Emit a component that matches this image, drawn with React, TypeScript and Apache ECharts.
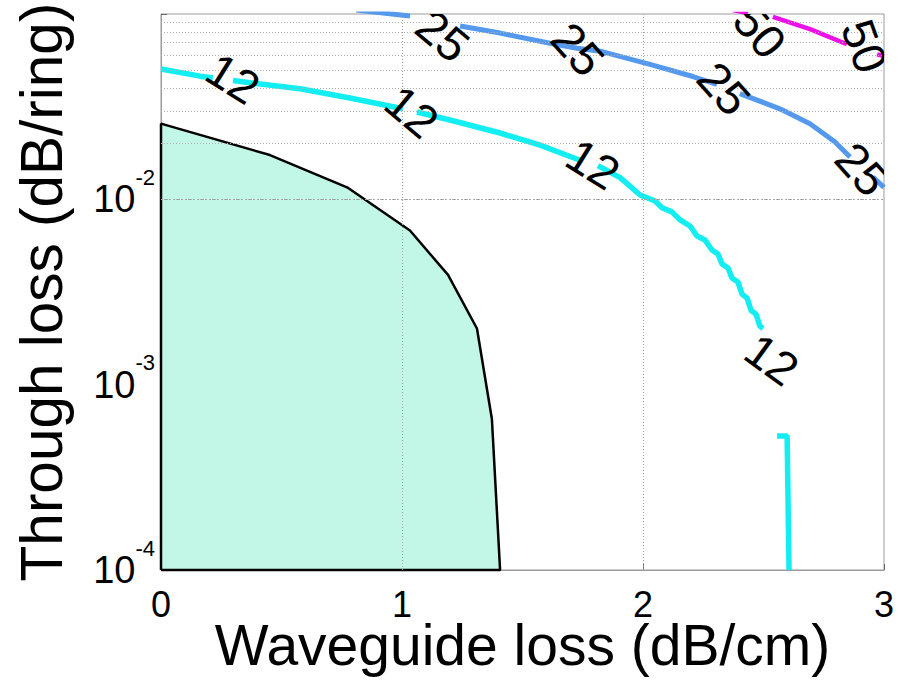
import React, { useEffect, useRef } from "react";
import * as echarts from "echarts";

const FONT = "'Liberation Sans', Arial, Helvetica, sans-serif";

// x-axis ticks (dB/cm) and y-axis decades (dB/ring)
const xTicks = [0, 1, 2, 3];
const yMajor = [1e-3, 1e-2];
const yMinor = [
  2e-4, 3e-4, 4e-4, 5e-4, 6e-4, 7e-4, 8e-4, 9e-4,
  2e-3, 3e-3, 4e-3, 5e-3, 6e-3, 7e-3, 8e-3, 9e-3,
  2e-2, 3e-2, 4e-2, 5e-2, 6e-2, 7e-2, 8e-2, 9e-2,
];
const xGrid = [1, 2];

// shaded feasible region boundary [waveguide loss, through loss]
const region: [number, number][] = [
  [0, 1e-4], [0, 0.0256], [0.452, 0.01734], [0.772, 0.01161], [1.033, 0.00679],
  [1.191, 0.00391], [1.311, 0.00201], [1.373, 0.000653], [1.407, 1e-4], [0, 1e-4],
];

// contour "12" (null = break for the label)
const contour12: ([number, number] | null)[] = [
  [0, 0.0505], [0.162, 0.0462], [0.215, 0.0452], null,
  [0.299, 0.0438], [0.369, 0.0426], [0.577, 0.0395], [0.784, 0.0352], [1.004, 0.0308], null,
  [1.062, 0.0296], [1.199, 0.0268], [1.407, 0.0228], [1.573, 0.0196], [1.747, 0.0161], null,
  [1.813, 0.0152], [1.905, 0.0131], [1.988, 0.01055], [2.05, 0.0098], [2.079, 0.009],
  [2.12, 0.00856], [2.154, 0.00774], [2.195, 0.00718], [2.224, 0.00634], [2.257, 0.00604],
  [2.286, 0.00533], [2.311, 0.00507], [2.328, 0.00448], [2.353, 0.00426], [2.369, 0.00376],
  [2.394, 0.00358], [2.411, 0.00308], [2.432, 0.00293], [2.448, 0.00252], [2.469, 0.0024],
  [2.485, 0.00207], [2.498, 0.00201],
];
const contour12b: [number, number][] = [[2.556, 5.28e-4], [2.598, 5.28e-4], [2.606, 1e-4]];

// contour "25"
const contour25: ([number, number] | null)[] = [
  [0.81, 0.105], [1.033, 0.0975], null,
  [1.241, 0.0861], [1.407, 0.0789], [1.614, 0.0695], [1.726, 0.0653], [1.822, 0.063],
  [2.029, 0.0535], [2.207, 0.046], [2.307, 0.0417], null,
  [2.402, 0.0372], [2.568, 0.0308], [2.693, 0.0256], [2.797, 0.0204], [2.859, 0.0169], null,
  [2.954, 0.0132], [3.0, 0.0116],
];

// contour "50"
const contour50: ([number, number] | null)[] = [
  [2.373, 0.105], [2.436, 0.1011], null,
  [2.539, 0.0964], [2.693, 0.0828], [2.846, 0.0687], null,
  [2.971, 0.0606], [3.0, 0.0592],
];

// contour labels [x, y, value, angle(deg, clockwise)]
const labels12 = [[0.299, 0.0449, 12, 32], [1.041, 0.0297, 12, 40], [1.793, 0.0155, 12, 32], [2.535, 0.001368, 12, 36]];
const labels25 = [[1.17, 0.0765, 25, 40], [1.73, 0.0646, 25, 48], [2.336, 0.0396, 25, 48], [2.909, 0.01456, 25, 48]];
const labels50 = [[2.485, 0.0805, 50, 50], [2.92, 0.067, 50, 70]];

function segments(pts: ([number, number] | null)[]): [number, number][][] {
  const out: [number, number][][] = [];
  let cur: [number, number][] = [];
  pts.forEach((p) => {
    if (p === null) {
      if (cur.length) out.push(cur);
      cur = [];
    } else cur.push(p);
  });
  if (cur.length) out.push(cur);
  return out;
}

function contourSeries(pts: ([number, number] | null)[], color: string, width: number) {
  return segments(pts).map((seg) => ({
    type: "line",
    data: seg,
    showSymbol: false,
    symbol: "none",
    z: 4,
    lineStyle: { color, width },
    silent: true,
  }));
}

export default function App() {
  const ref = useRef<HTMLDivElement>(null);
  useEffect(() => {
    if (!ref.current) return;
    const chart = echarts.init(ref.current, null, { renderer: "svg" });
    const gridLineData: any[] = [
      ...yMajor.map((v) => ({ yAxis: v, lineStyle: { color: "#9a9a9a", type: [2, 2], width: 1 } })),
      ...yMinor.map((v) => ({ yAxis: v, lineStyle: { color: "#b0b0b0", type: [1, 2], width: 1 } })),
      ...xGrid.map((v) => ({ xAxis: v, lineStyle: { color: "#a0a0a0", type: [1, 2], width: 1 } })),
    ];
    const option: any = {
      animation: false,
      grid: {
        left: 161, right: 19, top: 14, bottom: 114,
        containLabel: false, outerBoundsMode: "none",
        show: true, borderColor: "#9a9a9a", borderWidth: 1, backgroundColor: "#fff",
      },
      xAxis: {
        type: "value",
        min: 0,
        max: 3,
        interval: 1,
        name: "Waveguide loss (dB/cm)",
        nameLocation: "middle",
        nameGap: 54.5,
        nameMoveOverlap: false,
        nameTextStyle: { fontSize: 57, lineHeight: 40, fontFamily: FONT, color: "#000" },
        axisLine: { show: true, lineStyle: { color: "#9a9a9a" } },
        axisTick: { show: true, inside: true, length: 6, lineStyle: { color: "#666" } },
        axisLabel: { fontSize: 36, lineHeight: 28, fontFamily: FONT, color: "#000", margin: 20, formatter: (v: number) => (xTicks.includes(v) ? String(v) : "") },
        splitLine: { show: false },
      },
      yAxis: {
        type: "log",
        logBase: 10,
        min: 1e-4,
        max: 1e-1,
        name: "Through loss (dB/ring)",
        nameLocation: "middle",
        nameGap: 90,
        nameTextStyle: { fontSize: 58.5, fontFamily: FONT, color: "#000" },
        axisLine: { show: true, lineStyle: { color: "#9a9a9a" } },
        axisTick: { show: true, inside: true, length: 6, lineStyle: { color: "#666" } },
        axisLabel: {
          margin: 6,
          formatter: (v: number) => {
            const e = Math.round(Math.log10(v));
            if (e >= -1) return "";
            return `{b|10}{s|${e}}`;
          },
          rich: {
            b: { fontSize: 38, lineHeight: 66, fontFamily: FONT, color: "#000" },
            s: { fontSize: 22, lineHeight: 22, fontFamily: FONT, color: "#000", verticalAlign: "top" },
          },
        },
        splitLine: { show: false },
      },
      series: [
        {
          type: "line",
          data: region,
          showSymbol: false,
          symbol: "none",
          clip: false,
          z: 2,
          silent: true,
          lineStyle: { color: "#000", width: 2.5 },
          areaStyle: { color: "#c2f6e7", opacity: 1, origin: "start" },
        },
        {
          type: "line",
          data: [],
          z: 3,
          silent: true,
          markLine: { silent: true, symbol: ["none", "none"], label: { show: false }, animation: false, data: gridLineData },
        },
        ...contourSeries(contour12, "#12eef2", 5.5),
        ...contourSeries([...contour12b], "#12eef2", 5.5),
        ...contourSeries(contour25, "#5599ee", 5),
        ...contourSeries(contour50, "#ee10e8", 4.5),
        {
          type: "custom",
          coordinateSystem: "cartesian2d",
          clip: true,
          z: 6,
          silent: true,
          data: [...labels12, ...labels25, ...labels50],
          encode: { x: 0, y: 1 },
          renderItem: (_params: any, api: any) => {
            const p = api.coord([api.value(0), api.value(1)]);
            return {
              type: "text",
              x: p[0],
              y: p[1],
              rotation: (-api.value(3) * Math.PI) / 180,
              style: {
                text: String(api.value(2)),
                fontSize: 47,
                fontFamily: FONT,
                fill: "#000",
                align: "center",
                verticalAlign: "middle",
              },
            };
          },
        },
      ],
    };
    chart.setOption(option);
    return () => chart.dispose();
  }, []);
  return (
    <div
      ref={ref}
      style={{ position: "fixed", left: 0, top: 0, width: 903, height: 684, background: "#fff" }}
    />
  );
}
